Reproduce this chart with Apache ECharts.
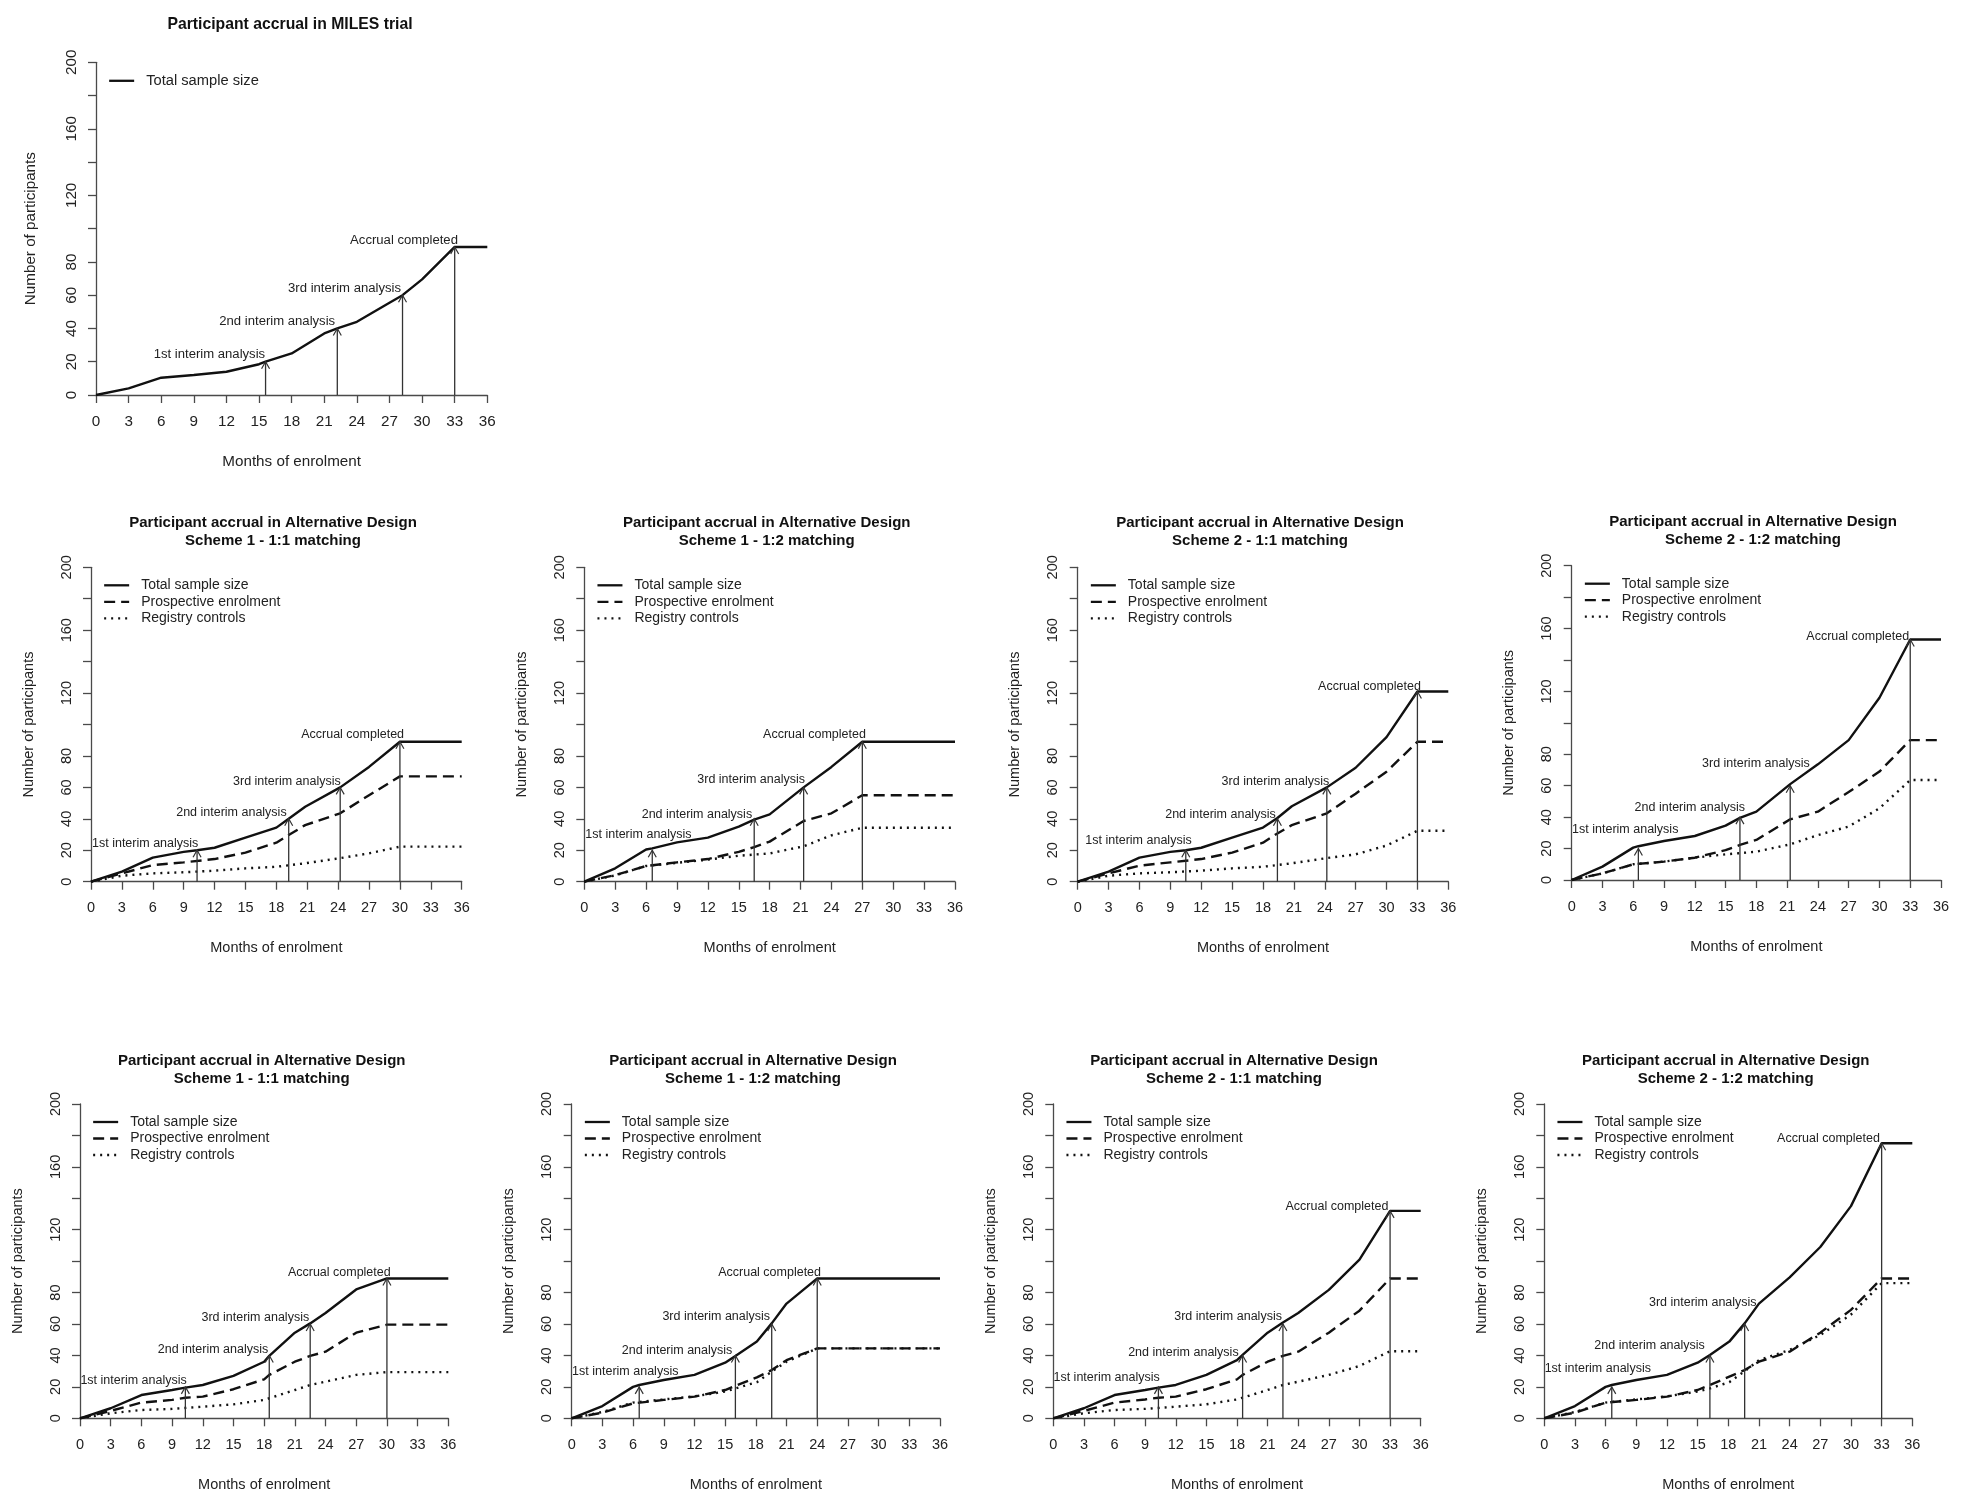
<!DOCTYPE html>
<html><head><meta charset="utf-8">
<script src="https://cdn.jsdelivr.net/npm/echarts@6/dist/echarts.min.js"></script>
<style>html,body{margin:0;padding:0;background:#fff}#c{width:1961px;height:1495px}</style>
</head><body><div id="c"></div><script>
// ---------------- DATA ----------------
const seriesNames = ['Total sample size', 'Prospective enrolment', 'Registry controls'];
const interimLabels = ['1st interim analysis', '2nd interim analysis', '3rd interim analysis', 'Accrual completed'];
const xTickLabels = ['0','3','6','9','12','15','18','21','24','27','30','33','36'];
const yTickLabels = ['0','20','40','60','80','','120','','160','','200'];

const panelTitles = [
  'Participant accrual in MILES trial',
  'Participant accrual in Alternative Design\nScheme 1 - 1:1 matching',
  'Participant accrual in Alternative Design\nScheme 1 - 1:2 matching',
  'Participant accrual in Alternative Design\nScheme 2 - 1:1 matching',
  'Participant accrual in Alternative Design\nScheme 2 - 1:2 matching',
  'Participant accrual in Alternative Design\nScheme 1 - 1:1 matching',
  'Participant accrual in Alternative Design\nScheme 1 - 1:2 matching',
  'Participant accrual in Alternative Design\nScheme 2 - 1:1 matching',
  'Participant accrual in Alternative Design\nScheme 2 - 1:2 matching'
];

// MILES trial
const milesTotal = [[0,0],[3,4],[6,10.4],[9,12],[12,14],[15,18.5],[15.6,20],[18,25],[21,37],[22.2,40],[24,44],[27,55.5],[28.2,60],[30,69.5],[33,89],[36,89]];
// arrows: [month, value, label month, label value]
const milesArrows = [[15.6,20,15.56,24.4],[22.2,40,22.0,44.1],[28.2,60,28.06,63.9],[33,89,33.3,93.2]];

// Row 2 - Scheme 1, 1:1
const s1m11aTotal = [[0,0],[3,6.4],[6,15.3],[9,19],[10.3,20],[12,21.6],[15,28],[18,34.4],[19.2,40],[20.8,47.7],[24.2,60],[27,73],[30,89],[36,89]];
const s1m11aProsp = [[0,0],[3,5.3],[6,10.6],[9,12.3],[12,14.4],[15,18.5],[18,24.8],[19.2,29.7],[20.8,36],[24.2,43.5],[27,55],[30,67],[36,67]];
const s1m11aReg = [[0,0],[3,3.8],[6,5.3],[9,6],[12,7],[15,8.5],[18,9.5],[20.8,11.7],[24.2,15],[27,18],[30,22.3],[36,22.3]];
const s1m11aArrows = [[10.3,20,10.42,24.0],[19.2,40,19.0,44.1],[24.2,60,24.25,64],[30,89,30.4,93.3]];

// Row 2 - Scheme 1, 1:2
const s1m12aTotal = [[0,0],[3,8.5],[6,20.5],[6.6,21.2],[9,25],[12,28],[15,35],[16.5,39.5],[18,42.8],[21.3,60],[24,73],[27,89],[36,89]];
const s1m12aProsp = [[0,0],[3,4.2],[6,10],[9,12.3],[12,14.4],[15,19],[16.5,22],[18,25.5],[21.3,38.6],[24,43.5],[27,55],[36,55]];
const s1m12aReg = [[0,0],[3,4],[6,10],[9,12],[12,14],[15,16.5],[18,18],[21.3,22.5],[24,29.5],[27,34.3],[36,34.3]];
const s1m12aArrows = [[6.6,20,10.42,30.1],[16.5,40,16.3,42.8],[21.3,60,21.43,65.1],[27,89,27.35,93.3]];

// Row 2 - Scheme 2, 1:1
const s2m11aTotal = [[0,0],[3,6.4],[6,15.3],[9,19],[10.5,20],[12,21.6],[15,28],[18,34.4],[19.4,40.5],[20.8,48],[24.2,60],[27,72.5],[30,92],[33,121],[36,121]];
const s2m11aProsp = [[0,0],[3,5.3],[6,10.2],[9,12.3],[12,14.4],[15,18.5],[18,24.8],[19.4,30.7],[20.8,36],[24.2,43.5],[27,56],[30,70],[33,89],[36,89]];
const s2m11aReg = [[0,0],[3,3.8],[6,5.3],[9,6],[12,7],[15,8.5],[18,9.5],[20.8,11.7],[24.2,15],[27,17.4],[30,23],[33,32.4],[36,32.4]];
const s2m11aArrows = [[10.5,20,11.07,26.1],[19.4,40,19.23,42.8],[24.2,60,24.44,63.6],[33,121,33.34,124.1]];

// Row 2 - Scheme 2, 1:2
const s2m12aTotal = [[0,0],[3,8.5],[6,20.6],[6.5,21.5],[9,24.8],[12,28],[15,34.6],[16.4,39.5],[18,43.5],[21.3,61],[24,73.6],[27,89],[30,116],[33,153],[36,153]];
const s2m12aProsp = [[0,0],[3,4.2],[6,10],[9,11.7],[12,14.2],[15,19],[16.4,22.3],[18,25.5],[21.3,38.6],[24,43.5],[27,56],[30,69],[33,89],[36,89]];
const s2m12aReg = [[0,0],[3,4.2],[6,10],[9,11.7],[12,14.2],[15,16.3],[18,18],[21.3,22.7],[24,28.6],[27,34],[30,45.6],[33,63.6],[36,63.6]];
const s2m12aArrows = [[6.5,20,10.4,32.2],[16.4,40,16.9,46],[21.3,60,23.2,73.8],[33,153,32.9,155.2]];

// Row 3 - Scheme 1, 1:1
const s1m11bTotal = [[0,0],[3,6.4],[6,14.8],[9,18],[10.3,19.5],[12,21.2],[15,27],[18,36],[18.5,39.7],[21,54.5],[22.5,60.4],[24,67],[27,82],[30,89],[36,89]];
const s1m11bProsp = [[0,0],[3,4.7],[6,10],[9,11.7],[10.3,13.1],[12,13.8],[15,18.5],[18,24.8],[18.5,27.6],[21,36],[22.5,39.7],[24,42.4],[27,54.5],[30,59.6],[36,59.6]];
const s1m11bReg = [[0,0],[3,3.2],[6,5.3],[9,6],[12,7.4],[15,8.9],[18,11.7],[21,18],[22.5,21.2],[24,23.3],[27,27.6],[30,29.4],[36,29.4]];
const s1m11bArrows = [[10.3,20,10.43,24],[18.5,40,18.4,43.9],[22.5,60,22.4,64],[30,89,30.37,92.9]];

// Row 3 - Scheme 1, 1:2
const s1m12bTotal = [[0,0],[3,7.8],[6,20],[6.6,21.2],[9,24.4],[12,27.6],[15,35.4],[16,39.7],[18.1,48.8],[19.55,60.4],[21,73],[24,89],[36,89]];
const s1m12bProsp = [[0,0],[3,3.6],[6,9.5],[9,11.7],[12,13.8],[15,18],[16,20.6],[18.1,26],[19.55,30.7],[21,37],[24,44.5],[36,44.5]];
const s1m12bReg = [[0,0],[3,4],[6,10],[9,12],[12,14],[15,17],[16,19],[18.1,23],[19.55,29.7],[21,36],[24,44.5],[36,44.5]];
const s1m12bArrows = [[6.6,20,10.43,29.7],[16,40,15.7,42.8],[19.55,60,19.39,64.7],[24,89,24.37,92.9]];

// Row 3 - Scheme 2, 1:1
const s2m11bTotal = [[0,0],[3,6.4],[6,14.8],[9,18],[10.3,19.5],[12,21.2],[15,27.6],[18,37],[18.55,40.3],[21,54.5],[22.5,60.9],[24,67],[27,81.7],[30,101],[33,132],[36,132]];
const s2m11bProsp = [[0,0],[3,4.7],[6,10],[9,12],[10.3,13.1],[12,13.8],[15,18.5],[18,24.8],[18.55,27.6],[21,36],[22.5,39.7],[24,42.4],[27,54.5],[30,68.5],[33,89],[36,89]];
const s2m11bReg = [[0,0],[3,3.2],[6,5.3],[9,6],[12,7.4],[15,8.9],[18,12],[21,18],[22.5,21.2],[24,23.3],[27,27.6],[30,33.3],[33,42.7],[36,42.7]];
const s2m11bArrows = [[10.3,20,10.43,25.9],[18.55,40,18.16,42],[22.5,60,22.4,64.7],[33,132,32.83,134.7]];

// Row 3 - Scheme 2, 1:2
const s2m12bTotal = [[0,0],[3,7.8],[6,20],[6.6,21.2],[9,24.4],[12,27.6],[15,35.4],[16.2,40.3],[18.1,48.8],[19.6,60.4],[21,73],[24,89.7],[27,109],[30,135],[33,175],[36,175]];
const s2m12bProsp = [[0,0],[3,3.6],[6,10],[9,11.7],[12,13.8],[15,18],[16.2,21.2],[18.1,26.5],[19.6,30.7],[21,36],[24,42.4],[27,54.5],[30,69],[33,89],[36,89]];
const s2m12bReg = [[0,0],[3,4],[6,10],[9,12],[12,14],[15,17],[16.2,19],[18.1,23],[19.6,30],[21,37],[24,43.5],[27,53],[30,66],[33,86],[36,86]];
const s2m12bArrows = [[6.6,20,10.43,31.8],[16.2,40,15.7,46],[19.6,60,20.77,73.6],[33,175,32.83,177.7]];

// ---------------- LAYOUT (positions / styles only) ----------------
const panelData = [
  {lines: [milesTotal], arrows: milesArrows},
  {lines: [s1m11aTotal, s1m11aProsp, s1m11aReg], arrows: s1m11aArrows},
  {lines: [s1m12aTotal, s1m12aProsp, s1m12aReg], arrows: s1m12aArrows},
  {lines: [s2m11aTotal, s2m11aProsp, s2m11aReg], arrows: s2m11aArrows},
  {lines: [s2m12aTotal, s2m12aProsp, s2m12aReg], arrows: s2m12aArrows},
  {lines: [s1m11bTotal, s1m11bProsp, s1m11bReg], arrows: s1m11bArrows},
  {lines: [s1m12bTotal, s1m12bProsp, s1m12bReg], arrows: s1m12bArrows},
  {lines: [s2m11bTotal, s2m11bProsp, s2m11bReg], arrows: s2m11bArrows},
  {lines: [s2m12bTotal, s2m12bProsp, s2m12bReg], arrows: s2m12bArrows}
];
const layout = [
  {l: 96,     t: 62.3,   w: 391.3, h: 332.7, tx: 290,    tt: 16,   s: 1.05, yg: 58},
  {l: 91,     t: 567.3,  w: 370.7, h: 314.4, tx: 273,    tt: 514,  s: 1,    yg: 55},
  {l: 584.3,  t: 567.3,  w: 370.7, h: 314.4, tx: 766.7,  tt: 514,  s: 1,    yg: 55},
  {l: 1077.7, t: 567.3,  w: 370.6, h: 314.4, tx: 1260,   tt: 514,  s: 1,    yg: 55},
  {l: 1571.7, t: 565.7,  w: 369.3, h: 314.3, tx: 1753,   tt: 512.5,s: 1,    yg: 55},
  {l: 80,     t: 1104,   w: 368.3, h: 314.3, tx: 261.7,  tt: 1052, s: 1,    yg: 55},
  {l: 571.7,  t: 1104,   w: 368.3, h: 314.3, tx: 753,    tt: 1052, s: 1,    yg: 55},
  {l: 1053.3, t: 1104,   w: 367.4, h: 314.3, tx: 1234,   tt: 1052, s: 1,    yg: 55},
  {l: 1544.3, t: 1104,   w: 368,   h: 314.3, tx: 1725.7, tt: 1052, s: 1,    yg: 55}
];
const FONT = "'Liberation Sans', Arial, Helvetica, sans-serif";
const TXT = '#222';
const AX = '#4a4a4a';
const lineTypes = ['solid', [11, 6], [2, 5]];

const option = {
  animation: false,
  backgroundColor: '#fff',
  title: [], grid: [], xAxis: [], yAxis: [], legend: [], series: []
};

panelData.forEach((p, i) => {
  const L = layout[i];
  const s = L.s;
  option.title.push({
    text: panelTitles[i], left: L.tx, top: L.tt, textAlign: 'center', padding: 0,
    textStyle: {fontFamily: FONT, fontSize: 15 * s, fontWeight: 'bold', color: '#111', lineHeight: 18}
  });
  option.grid.push({left: L.l, top: L.t, width: L.w, height: L.h, containLabel: false});
  option.xAxis.push({
    type: 'value', gridIndex: i, min: 0, max: 36, interval: 3,
    name: 'Months of enrolment', nameLocation: 'middle', nameGap: 59,
    nameTextStyle: {fontFamily: FONT, fontSize: 14.5 * s, color: TXT},
    axisLine: {show: true, onZero: false, lineStyle: {color: AX, width: 1.3}},
    axisTick: {show: true, length: 8, lineStyle: {color: AX, width: 1.3}},
    axisLabel: {fontFamily: FONT, fontSize: 14.5 * s, color: TXT, margin: 19,
      formatter: (v, idx) => xTickLabels[idx]},
    splitLine: {show: false}
  });
  option.yAxis.push({
    type: 'value', gridIndex: i, min: 0, max: 200, interval: 20,
    name: 'Number of participants', nameLocation: 'middle', nameGap: L.yg, nameRotate: 90,
    nameTextStyle: {fontFamily: FONT, fontSize: 14.5 * s, color: TXT},
    axisLine: {show: true, onZero: false, lineStyle: {color: AX, width: 1.3}},
    axisTick: {show: true, length: 8, lineStyle: {color: AX, width: 1.3}},
    axisLabel: {fontFamily: FONT, fontSize: 14.5 * s, color: TXT, margin: 17, rotate: 90,
      formatter: (v, idx) => yTickLabels[idx]},
    splitLine: {show: false}
  });
  option.legend.push({
    left: L.l + 12, top: L.t + 11, orient: 'vertical', padding: 0,
    itemWidth: 25, itemHeight: 14, itemGap: 2.5,
    itemStyle: {opacity: 0},
    data: seriesNames.slice(0, p.lines.length).map((n, k) => ({
      name: n, itemStyle: {opacity: 0},
      lineStyle: {type: lineTypes[k], width: 2.3, color: '#111', opacity: 1}
    })),
    textStyle: {fontFamily: FONT, fontSize: 14 * s, color: TXT, padding: [0, 0, 0, 7]}
  });
  p.lines.forEach((d, k) => {
    option.series.push({
      type: 'line', name: seriesNames[k], xAxisIndex: i, yAxisIndex: i,
      data: d, symbol: 'none', showSymbol: false, silent: true, z: 2,
      lineStyle: {color: '#111', width: 2.4, type: lineTypes[k]},
      itemStyle: {color: '#111'}
    });
  });
  option.series.push({
    type: 'custom', name: 'arrows', xAxisIndex: i, yAxisIndex: i, silent: true, clip: false, z: 3,
    data: p.arrows,
    renderItem: (params, api) => {
      const m = api.value(0), v = api.value(1), lm = api.value(2), lv = api.value(3);
      const p0 = api.coord([m, 0]), p1 = api.coord([m, v]), pl = api.coord([lm, lv]);
      return {type: 'group', children: [
        {type: 'line', shape: {x1: p0[0], y1: p0[1], x2: p1[0], y2: p1[1]},
          style: {stroke: '#333', lineWidth: 1.3}},
        {type: 'polyline', shape: {points: [[p1[0] - 4, p1[1] + 7], [p1[0], p1[1]], [p1[0] + 4, p1[1] + 7]]},
          style: {stroke: '#333', lineWidth: 1.2, fill: 'none'}},
        {type: 'text', x: pl[0], y: pl[1],
          style: {text: interimLabels[params.dataIndex], align: 'right', verticalAlign: 'middle',
            fontFamily: FONT, fontSize: 12.5 * s, fill: TXT}}
      ]};
    }
  });
});

const chart = echarts.init(document.getElementById('c'), null, {renderer: 'canvas'});
chart.setOption(option);
</script></body></html>
